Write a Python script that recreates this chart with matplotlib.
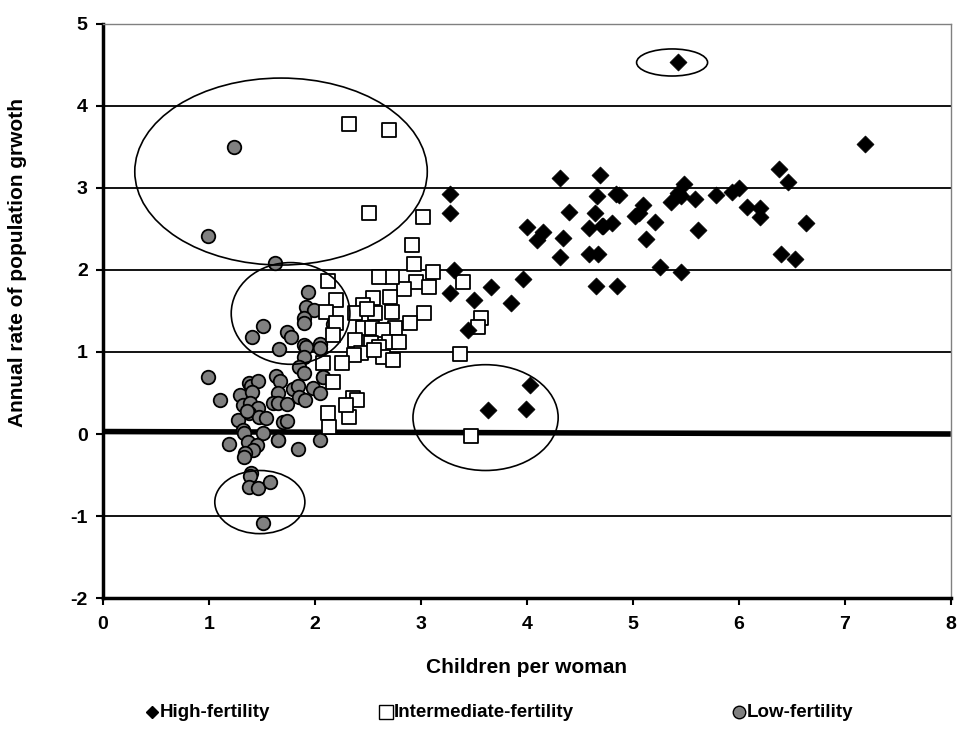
import matplotlib.pyplot as plt
from matplotlib.patches import Ellipse
from matplotlib.lines import Line2D

plt.rcParams['font.family'] = ['Liberation Sans', 'DejaVu Sans']
plt.rcParams['font.weight'] = 'bold'
plt.rcParams['axes.unicode_minus'] = False

# high-fertility countries (children per woman, annual growth %)
high_x = [5.43, 7.19, 6.38, 6.46, 6.40, 6.53, 6.63, 6.20, 6.20, 6.08, 6.00, 5.94,
          5.78, 5.61, 5.59, 5.48, 5.45, 5.36, 5.45, 5.26, 5.21, 5.12, 5.10, 5.06,
          5.02, 4.87, 4.84, 4.80, 4.85, 4.69, 4.66, 4.64, 4.71, 4.59, 4.67, 4.59,
          4.65, 4.40, 4.34, 4.31, 4.31, 4.15, 4.10, 4.00, 3.96, 3.85, 4.03, 3.99,
          3.63, 3.66, 3.50, 3.44, 3.31, 3.27, 3.27, 3.27, 4.72, 5.43]
high_y = [4.54, 3.54, 3.23, 3.07, 2.20, 2.13, 2.57, 2.76, 2.64, 2.77, 3.00, 2.95,
          2.91, 2.49, 2.86, 3.05, 2.90, 2.83, 1.97, 2.04, 2.59, 2.38, 2.79, 2.69,
          2.66, 2.92, 2.93, 2.57, 1.81, 3.16, 2.90, 2.70, 2.54, 2.51, 2.19, 2.20,
          1.81, 2.71, 2.39, 3.12, 2.16, 2.46, 2.36, 2.52, 1.89, 1.60, 0.60, 0.30,
          0.29, 1.79, 1.63, 1.27, 2.00, 2.93, 2.70, 1.72, 2.54, 2.94]

# intermediate-fertility countries
mid_x = [2.32, 2.70, 2.51, 3.02, 2.92, 2.93, 3.11, 2.95, 3.08, 2.84, 2.73, 2.60,
         2.12, 3.40, 2.20, 2.55, 2.45, 2.71, 3.03, 3.57, 3.54, 2.38, 2.57, 2.73,
         2.76, 2.90, 2.45, 2.54, 2.64, 2.10, 2.20, 2.17, 2.70, 2.79, 2.38, 2.53,
         2.60, 2.64, 2.43, 2.37, 2.26, 2.08, 2.74, 3.37, 2.17, 2.36, 2.40, 2.32,
         2.12, 2.13, 2.29, 3.47, 2.49, 2.56]
mid_y = [3.78, 3.71, 2.70, 2.64, 2.31, 2.07, 1.98, 1.85, 1.79, 1.77, 1.91, 1.91,
         1.87, 1.85, 1.63, 1.66, 1.57, 1.67, 1.48, 1.41, 1.31, 1.47, 1.47, 1.49,
         1.29, 1.35, 1.29, 1.29, 1.27, 1.49, 1.35, 1.21, 1.12, 1.12, 1.15, 1.11,
         1.06, 0.94, 0.99, 0.96, 0.87, 0.87, 0.90, 0.98, 0.63, 0.44, 0.41, 0.21,
         0.26, 0.09, 0.35, -0.02, 1.52, 1.02]

# low-fertility countries
low_x = [1.24, 0.99, 1.62, 1.93, 1.92, 1.99, 1.90, 1.90, 2.17, 1.51, 1.41, 1.74,
         1.77, 1.66, 1.90, 1.92, 2.05, 2.05, 1.90, 1.85, 1.90, 2.08, 0.99, 1.10,
         1.38, 1.40, 1.46, 1.29, 1.41, 1.32, 1.39, 1.46, 1.38, 1.47, 1.54, 1.27,
         1.32, 1.33, 1.51, 1.19, 1.37, 1.45, 1.42, 1.34, 1.33, 1.65, 1.84, 2.05,
         1.40, 1.39, 1.38, 1.46, 1.58, 1.51, 1.63, 1.67, 1.65, 1.60, 1.65, 1.74,
         1.70, 1.74, 1.79, 1.84, 1.85, 1.91, 1.98, 2.05, 2.08, 1.65, 1.36]
low_y = [3.50, 2.42, 2.09, 1.73, 1.55, 1.51, 1.41, 1.35, 1.34, 1.32, 1.18, 1.24,
         1.18, 1.04, 1.09, 1.06, 1.10, 1.05, 0.94, 0.82, 0.74, 0.69, 0.69, 0.41,
         0.62, 0.58, 0.65, 0.48, 0.51, 0.35, 0.38, 0.32, 0.26, 0.21, 0.19, 0.17,
         0.05, 0.01, 0.01, -0.12, -0.10, -0.13, -0.20, -0.23, -0.28, -0.07, -0.18,
         -0.07, -0.48, -0.51, -0.65, -0.66, -0.58, -1.08, 0.71, 0.65, 0.50, 0.38,
         0.38, 0.37, 0.15, 0.16, 0.55, 0.59, 0.45, 0.41, 0.56, 0.50, 0.69, -0.07,
         0.28]

# hand-drawn highlight ellipses: centre x, centre y, width, height
ell_cx = [1.68, 1.77, 1.48, 3.61, 5.37]
ell_cy = [3.20, 1.47, -0.83, 0.20, 4.53]
ell_w = [2.76, 1.12, 0.85, 1.37, 0.67]
ell_h = [2.28, 1.24, 0.77, 1.29, 0.33]

# near-flat zero reference line
zero_x = [0, 8]
zero_y = [0.03, 0.0]

legend_labels = ['High-fertility', 'Intermediate-fertility', 'Low-fertility']

fig = plt.figure(figsize=(9.58, 7.48), dpi=100)
ax = fig.add_axes([0.1075, 0.2005, 0.885, 0.7675])

for g in [4, 3, 2, 1, -1]:
    ax.axhline(g, color='black', lw=1.3, zorder=1)
ax.plot(zero_x, zero_y, color='black', lw=4, zorder=1, solid_capstyle='butt')

ax.scatter(low_x, low_y, s=95, marker='o', facecolor='#808080', edgecolor='black',
           linewidths=1.3, zorder=3)
ax.scatter(mid_x, mid_y, s=95, marker='s', facecolor='white', edgecolor='black',
           linewidths=1.3, zorder=3)
ax.scatter(high_x, high_y, s=75, marker='D', facecolor='black', edgecolor='black',
           linewidths=0.5, zorder=4)

for cx, cy, w, h in zip(ell_cx, ell_cy, ell_w, ell_h):
    ax.add_patch(Ellipse((cx, cy), w, h, fill=False, edgecolor='black', lw=1.2, zorder=5))

ax.set_xlim(0, 8)
ax.set_ylim(-2, 5)
ax.set_xticks(range(0, 9))
ax.set_yticks(range(-2, 6))
ax.tick_params(direction='out', length=5, width=1.5, labelsize=14)
ax.tick_params(axis='x', pad=8)
ax.tick_params(axis='y', pad=6)
for lab in ax.get_xticklabels() + ax.get_yticklabels():
    lab.set_fontweight('bold')

ax.spines['left'].set_linewidth(2.5)
ax.spines['bottom'].set_linewidth(2.5)
ax.spines['top'].set_color('#808080')
ax.spines['right'].set_color('#808080')
ax.spines['top'].set_linewidth(1)
ax.spines['right'].set_linewidth(1)

ax.set_xlabel('Children per woman', fontsize=15, fontweight='bold', labelpad=18)
ax.set_ylabel('Annual rate of population grwoth', fontsize=15, fontweight='bold')
ax.yaxis.set_label_coords(-0.09, 0.585)

# legend laid out by hand: markers then labels
leg_y = 0.048
leg_styles = [dict(marker='D', markersize=6.5, markerfacecolor='black', markeredgecolor='black'),
              dict(marker='s', markersize=10, markerfacecolor='white', markeredgecolor='black'),
              dict(marker='o', markersize=9, markerfacecolor='#808080', markeredgecolor='black')]
leg_mx = [0.159, 0.403, 0.771]
for mx, style, text in zip(leg_mx, leg_styles, legend_labels):
    fig.add_artist(Line2D([mx], [leg_y], transform=fig.transFigure, ls='none', **style))
    fig.text(mx + 0.008, leg_y, text, fontsize=13.5, fontweight='bold', va='center', ha='left')

plt.savefig('out.png', dpi=100)
